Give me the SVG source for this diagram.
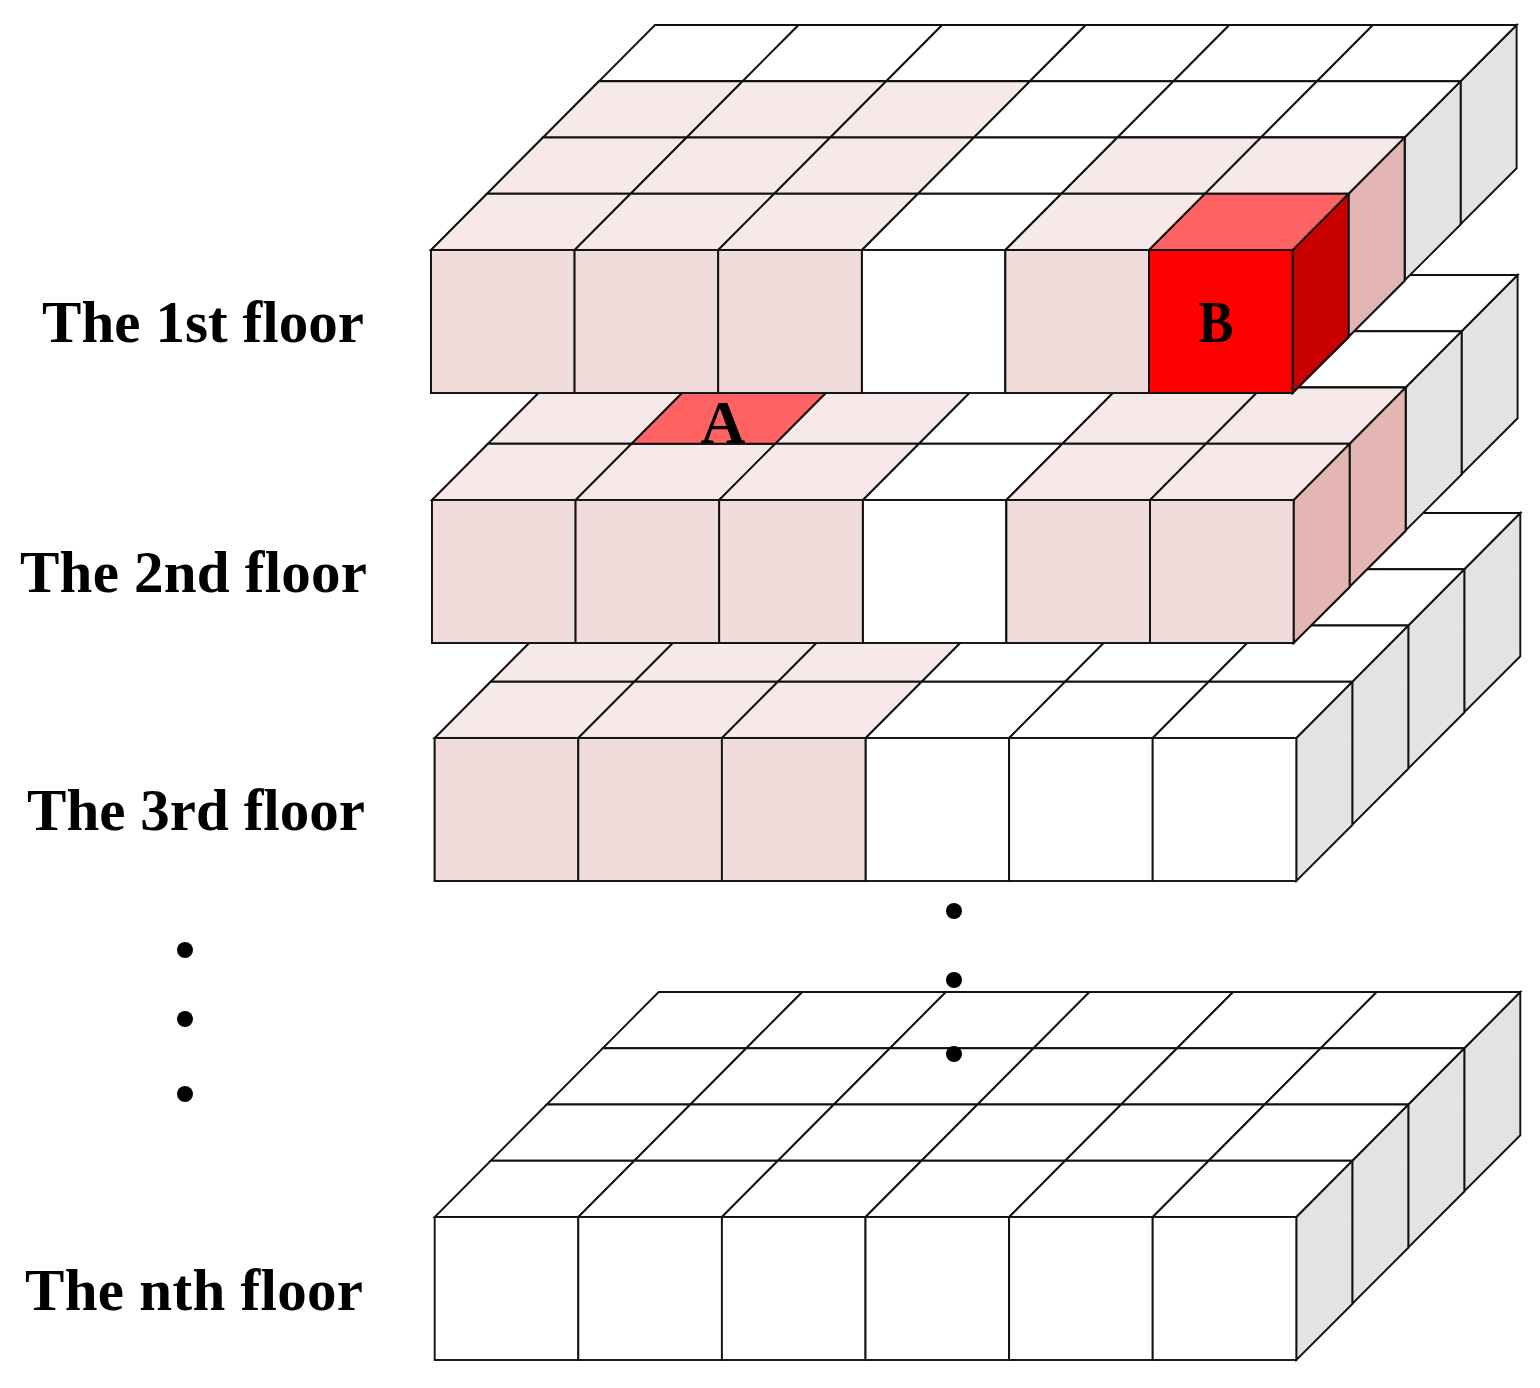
<svg xmlns="http://www.w3.org/2000/svg" width="1540" height="1388" viewBox="0 0 1540 1388">
<style>
.e{stroke:#111;stroke-width:1.9;stroke-linejoin:miter}
.w{fill:#fff}.g{fill:#e3e3e3}
.pt{fill:#f7e9e9}.pf{fill:#f0dcdb}.ps{fill:#e3b6b3}
.rt{fill:#ff6262}.rf{fill:#ff0000}.rs{fill:#c80000}
text{font-family:"Liberation Serif","Times New Roman",serif;font-weight:bold;fill:#000}
.l{font-size:59px}
.m{font-size:60px;text-anchor:middle}
</style>
<defs>
<polygon id="t" class="e" points="0,0 143.6,0 199.6,-56.25 56,-56.25"/>
<polygon id="s" class="e" points="0,0 56,-56.25 56,87 0,143"/>
<rect id="f" class="e" x="0" y="0" width="143.6" height="143"/>
<g id="floor">
<g class="g"><use href="#s" x="1029.6" y="-168.75"/><use href="#s" x="973.6" y="-112.5"/><use href="#s" x="917.6" y="-56.25"/><use href="#s" x="861.6" y="0"/></g>
<g class="w">
<use href="#t" x="168" y="-168.75"/><use href="#t" x="311.6" y="-168.75"/><use href="#t" x="455.2" y="-168.75"/><use href="#t" x="598.8" y="-168.75"/><use href="#t" x="742.4" y="-168.75"/><use href="#t" x="886" y="-168.75"/>
<use href="#t" x="112" y="-112.5"/><use href="#t" x="255.6" y="-112.5"/><use href="#t" x="399.2" y="-112.5"/><use href="#t" x="542.8" y="-112.5"/><use href="#t" x="686.4" y="-112.5"/><use href="#t" x="830" y="-112.5"/>
<use href="#t" x="56" y="-56.25"/><use href="#t" x="199.6" y="-56.25"/><use href="#t" x="343.2" y="-56.25"/><use href="#t" x="486.8" y="-56.25"/><use href="#t" x="630.4" y="-56.25"/><use href="#t" x="774" y="-56.25"/>
<use href="#t" x="0" y="0"/><use href="#t" x="143.6" y="0"/><use href="#t" x="287.2" y="0"/><use href="#t" x="430.8" y="0"/><use href="#t" x="574.4" y="0"/><use href="#t" x="718" y="0"/>
<use href="#f" x="0"/><use href="#f" x="143.6"/><use href="#f" x="287.2"/><use href="#f" x="430.8"/><use href="#f" x="574.4"/><use href="#f" x="718"/>
</g>
</g>
</defs>
<rect class="w" x="0" y="0" width="1540" height="1388"/>

<g id="floor-n" transform="translate(434.7 1217)">
<use href="#floor"/>
</g>

<g id="floor-3" transform="translate(434.7 738)">
<use href="#floor"/>
<g class="pt"><use href="#t" x="56" y="-56.25"/><use href="#t" x="199.6" y="-56.25"/><use href="#t" x="343.2" y="-56.25"/><use href="#t" x="0" y="0"/><use href="#t" x="143.6" y="0"/><use href="#t" x="287.2" y="0"/></g>
<g class="pf"><use href="#f" x="0"/><use href="#f" x="143.6"/><use href="#f" x="287.2"/></g>
</g>

<g id="floor-2" transform="translate(432 500)">
<use href="#floor"/>
<g class="ps"><use href="#s" x="917.6" y="-56.25"/><use href="#s" x="861.6" y="0"/></g>
<g class="pt"><use href="#t" x="56" y="-56.25"/><use href="#t" x="343.2" y="-56.25"/><use href="#t" x="630.4" y="-56.25"/><use href="#t" x="774" y="-56.25"/><use href="#t" x="0" y="0"/><use href="#t" x="143.6" y="0"/><use href="#t" x="287.2" y="0"/><use href="#t" x="574.4" y="0"/><use href="#t" x="718" y="0"/></g>
<use href="#t" class="rt" x="199.6" y="-56.25"/>
<g class="pf"><use href="#f" x="0"/><use href="#f" x="143.6"/><use href="#f" x="287.2"/><use href="#f" x="574.4"/><use href="#f" x="718"/></g>
</g>

<g id="floor-1" transform="translate(431 250)">
<use href="#floor"/>
<use href="#s" class="ps" x="917.6" y="-56.25"/>
<use href="#s" class="rs" x="861.6" y="0"/>
<g class="pt"><use href="#t" x="112" y="-112.5"/><use href="#t" x="255.6" y="-112.5"/><use href="#t" x="399.2" y="-112.5"/><use href="#t" x="56" y="-56.25"/><use href="#t" x="199.6" y="-56.25"/><use href="#t" x="343.2" y="-56.25"/><use href="#t" x="630.4" y="-56.25"/><use href="#t" x="774" y="-56.25"/><use href="#t" x="0" y="0"/><use href="#t" x="143.6" y="0"/><use href="#t" x="287.2" y="0"/><use href="#t" x="574.4" y="0"/></g>
<use href="#t" class="rt" x="718" y="0"/>
<g class="pf"><use href="#f" x="0"/><use href="#f" x="143.6"/><use href="#f" x="287.2"/><use href="#f" x="574.4"/></g>
<use href="#f" class="rf" x="718"/>
</g>

<g id="cell-labels">
<text class="m" style="font-size:62px" x="723" y="443">A</text>
<text class="m" x="1216" y="342" textLength="35" lengthAdjust="spacingAndGlyphs">B</text>
</g>

<g id="floor-labels">
<text class="l" x="42" y="342" textLength="322" lengthAdjust="spacing">The 1st floor</text>
<text class="l" x="20" y="592" textLength="347" lengthAdjust="spacing">The 2nd  floor</text>
<text class="l" x="27" y="830" textLength="338" lengthAdjust="spacing">The 3rd floor</text>
<text class="l" x="25" y="1310" textLength="338" lengthAdjust="spacing">The nth floor</text>
</g>

<g id="dots" fill="#000">
<circle cx="185" cy="950" r="8"/><circle cx="185" cy="1019" r="8"/><circle cx="185" cy="1094" r="8"/>
<circle cx="954" cy="911" r="8"/><circle cx="954" cy="980" r="8"/><circle cx="954" cy="1054" r="8"/>
</g>
</svg>
